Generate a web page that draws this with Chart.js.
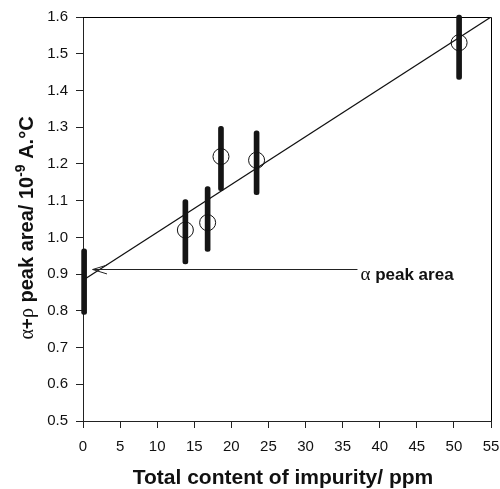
<!DOCTYPE html>
<html>
<head>
<meta charset="utf-8">
<script src="https://cdn.jsdelivr.net/npm/chart.js@4/dist/chart.umd.min.js"></script>
<style>
  html, body { margin: 0; padding: 0; background: #fff; }
  #wrap { width: 500px; height: 489px; }
</style>
</head>
<body>
<div id="wrap"><canvas id="chart"></canvas></div>
<script>
// Impurity content (ppm) of each sample and the measured alpha+rho peak area
const impurity   = [0.15, 13.8, 16.8, 18.6, 23.4, 50.7];
const peakArea   = [null, 1.02, 1.04, 1.22, 1.21, 1.53];
const peakLow    = [0.79, 0.928, 0.962, 1.127, 1.116, 1.43];
const peakHigh   = [0.969, 1.103, 1.138, 1.302, 1.29, 1.605];

// Least-squares line through the samples
const fitX = [0, 55];
const fitY = [0.883, 1.6];

// Axis ticks
const xTicks = [0, 5, 10, 15, 20, 25, 30, 35, 40, 45, 50, 55];
const yTicks = [0.5, 0.6, 0.7, 0.8, 0.9, 1.0, 1.1, 1.2, 1.3, 1.4, 1.5, 1.6];

// Callout marking the alpha-peak contribution at zero impurity
const calloutTipX = 1.3;
const calloutY = 0.913;
const calloutEndX = 37.0;

const SANS = '"Liberation Sans", Arial, Helvetica, sans-serif';
const SERIF = '"Liberation Serif", "Times New Roman", serif';

function drawRuns(ctx, runs, startX, baseY) {
  let x = startX;
  for (const r of runs) {
    ctx.font = r.font;
    ctx.fillText(r.text, x, baseY + (r.dy || 0));
    x += ctx.measureText(r.text).width;
  }
}
function runsWidth(ctx, runs) {
  let w = 0;
  for (const r of runs) { ctx.font = r.font; w += ctx.measureText(r.text).width; }
  return w;
}

const decorations = {
  id: 'decorations',
  beforeDatasetsDraw(chart) {
    const { ctx, chartArea: a } = chart;
    ctx.save();
    ctx.strokeStyle = '#000';
    ctx.lineWidth = 1;
    ctx.beginPath();
    ctx.moveTo(a.left, a.top + 0.5);
    ctx.lineTo(a.right + 0.5, a.top + 0.5);
    ctx.lineTo(a.right + 0.5, a.bottom);
    ctx.stroke();
    ctx.restore();
  },
  afterDatasetsDraw(chart) {
    const { ctx } = chart;
    const xs = chart.scales.x, ys = chart.scales.y;
    const tipX = xs.getPixelForValue(calloutTipX);
    const endX = xs.getPixelForValue(calloutEndX);
    const y = Math.round(ys.getPixelForValue(calloutY)) + 0.5;
    ctx.save();
    ctx.strokeStyle = '#222';
    ctx.lineWidth = 1;
    ctx.beginPath();
    ctx.moveTo(tipX, y);
    ctx.lineTo(endX, y);
    const len = 15, ang = 0.3;
    ctx.moveTo(tipX + len * Math.cos(ang), y - len * Math.sin(ang));
    ctx.lineTo(tipX, y);
    ctx.lineTo(tipX + len * Math.cos(ang), y + len * Math.sin(ang));
    ctx.stroke();

    ctx.fillStyle = '#111';
    ctx.textBaseline = 'alphabetic';
    ctx.textAlign = 'left';
    drawRuns(ctx, [
      { text: 'α', font: '19px ' + SERIF },
      { text: ' peak area', font: 'bold 17px ' + SANS }
    ], endX + 3, y + 10.5);

    // x-axis title
    ctx.font = 'bold 21px ' + SANS;
    ctx.textAlign = 'center';
    ctx.fillText('Total content of impurity/ ppm', 283, 484);

    // y-axis title, rotated, with superscript exponent
    const runs = [
      { text: 'α', font: '20px ' + SERIF },
      { text: '+', font: 'bold 19px ' + SANS },
      { text: 'ρ', font: '20px ' + SERIF },
      { text: ' peak area/ 10', font: 'bold 20px ' + SANS },
      { text: '-9', font: 'bold 14px ' + SANS, dy: -8 },
      { text: ' A.°C', font: 'bold 20px ' + SANS }
    ];
    ctx.translate(33, 228);
    ctx.rotate(-Math.PI / 2);
    ctx.textAlign = 'left';
    const w = runsWidth(ctx, runs);
    drawRuns(ctx, runs, -w / 2, 0);
    ctx.restore();
  }
};

const tickFont = { family: SANS, size: 15 };

new Chart(document.getElementById('chart'), {
  type: 'scatter',
  data: {
    datasets: [
      {
        type: 'scatter',
        data: impurity.map((x, i) => ({ x, y: peakArea[i] })).filter(p => p.y !== null),
        pointStyle: 'circle',
        pointRadius: 8,
        pointBorderWidth: 1,
        pointBorderColor: '#111',
        pointBackgroundColor: 'rgba(0,0,0,0)',
        showLine: false,
        order: 1
      },
      {
        type: 'bar',
        data: impurity.map((x, i) => ({ x, y: [peakLow[i], peakHigh[i]] })),
        backgroundColor: '#151515',
        barThickness: 5,
        borderRadius: 2.5,
        borderSkipped: false,
        clip: false,
        order: 2
      },
      {
        type: 'line',
        data: fitX.map((x, i) => ({ x, y: fitY[i] })),
        borderColor: '#111',
        borderWidth: 1.2,
        pointRadius: 0,
        fill: false,
        order: 3
      }
    ]
  },
  options: {
    responsive: true,
    maintainAspectRatio: false,
    animation: false,
    events: [],
    layout: { padding: { top: 16, right: 0, left: 0, bottom: 0 } },
    plugins: { legend: { display: false }, tooltip: { enabled: false } },
    scales: {
      x: {
        type: 'linear',
        min: 0, max: 55,
        offset: false,
        afterFit(s) { s.height = 68; s.paddingLeft = 0; s.paddingRight = 9; },
        afterBuildTicks(s) { s.ticks = xTicks.map(v => ({ value: v })); },
        ticks: { font: tickFont, color: '#111', padding: 10, maxRotation: 0, autoSkip: false },
        grid: { drawOnChartArea: false, drawTicks: true, tickLength: 7, color: '#222', offset: false },
        border: { color: '#222', width: 1 }
      },
      y: {
        type: 'linear',
        min: 0.5, max: 1.6,
        afterFit(s) { s.width = 83; },
        afterBuildTicks(s) { s.ticks = yTicks.map(v => ({ value: v })); },
        ticks: { font: tickFont, color: '#111', padding: 8, autoSkip: false, callback: v => Number(v).toFixed(1) },
        grid: { drawOnChartArea: false, drawTicks: true, tickLength: 7, color: '#222' },
        border: { color: '#222', width: 1 }
      }
    }
  },
  plugins: [decorations]
});
</script>
</body>
</html>
